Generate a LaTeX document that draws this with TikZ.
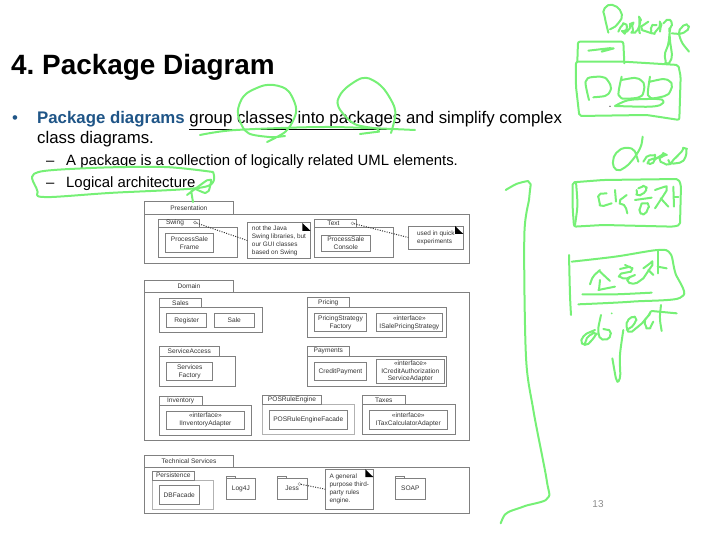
\documentclass[tikz,border=0pt]{standalone}
\usepackage{fontspec}
\setmainfont{Liberation Sans}
\frenchspacing
\definecolor{inkgreen}{RGB}{118,240,118}
\definecolor{headblue}{RGB}{31,85,135}

\newcommand{\inkline}[1]{\draw[ink] plot[smooth,tension=.5] coordinates {#1};}

\begin{document}
\begin{tikzpicture}[x=1pt,y=-1pt,
  corners/.style args={#1,#2,#3,#4}{at={({(#1+#3)/2},{(#2+#4)/2})},minimum width={(#3-#1)*1pt},minimum height={(#4-#2)*1pt}},
  pack/.style={draw=black!50,line width=.5pt,inner sep=0pt,outer sep=0pt,font=\fontsize{6.6}{7.8}\selectfont,align=center,text=black!80},
  classbox/.style={pack},
  notebox/.style={pack,font=\fontsize{6.4}{8}\selectfont,align=left},
  fold/.style={fill=black},
  lolly/.style={circle,draw=black!45,line width=.4pt,inner sep=0pt,minimum size=3pt},
  depends/.style={dash pattern=on 1pt off 1.4pt,line width=1pt,black!80},
  slide/.style={anchor=base west,inner sep=0pt,font=\fontsize{16.8}{20}\selectfont},
  subline/.style={slide,font=\fontsize{14.9}{18}\selectfont},
  ink/.style={inkgreen,line width=2pt,line cap=round,line join=round,rounded corners=2pt}]

  \useasboundingbox (0,0) rectangle (709,537);

  % slide text
  \node[slide,font=\fontsize{27.9}{32}\selectfont\bfseries] (title) at (11,75) {4. Package Diagram};
  \node[slide,text=headblue] (bulleta) at (12,124) {•};
  \node[slide] (linea) at (37,124) {{\color{headblue}\bfseries Package diagrams} \underline{group classes into packages} and simplify complex};
  \node[slide] (lineb) at (37,144) {class diagrams.};
  \node[subline] (dasha) at (46,166) {–};
  \node[subline] (linec) at (66,166) {A package is a collection of logically related UML elements.};
  \node[subline] (dashb) at (46,188) {–};
  \node[subline] (lined) at (66,188) {Logical architecture};
  \node[anchor=base,inner sep=0pt,text=black!45,font=\fontsize{10}{12}\selectfont] (pageno) at (598,507) {13};

  % presentation
  \node[pack,corners={144.7,214,469.5,263.5}] (pres) {};
  \node[pack,corners={144.7,201.7,233,214}] (prestab) {Presentation};
  \node[pack,corners={158.7,227.3,237.7,257.7}] (swing) {};
  \node[pack,corners={158.7,219,199.3,227.3}] (swingtab) {Swing\hspace{8pt}};
  \node[classbox,corners={165.7,233.3,213.3,252.3}] (frame) {ProcessSale\\Frame};
  \node[notebox,corners={247.3,222.7,310.7,258.3}] (swingnote) {not the Java\\Swing libraries, but\\our GUI classes\\based on Swing};
  \fill[fold] (302.3,223) -- (310.7,231) -- (302.3,231) -- cycle;
  \node[pack,corners={314.3,227.3,393.3,257.7}] (text) {};
  \node[pack,corners={314.3,219,356.7,227.3}] (texttab) {Text\hspace{4pt}};
  \node[classbox,corners={321.7,235,370,251.7}] (console) {ProcessSale\\Console};
  \node[notebox,corners={408.3,226,463.3,249}] (textnote) {used in quick\\experiments\hspace{10pt}};
  \fill[fold] (455,226) -- (463.3,234) -- (455,234) -- cycle;
  \node[lolly] (swingdot) at (195,222.5) {};
  \node[lolly] (textdot) at (352.5,223.3) {};
  \draw[depends] (swingdot) -- (swingnote.west);
  \draw[depends] (textdot) -- (textnote.west);

  % domain
  \node[pack,corners={144.7,292.3,469.7,440.7}] (dom) {};
  \node[pack,corners={144.7,280.7,233.3,292.3}] (domtab) {Domain};
  \node[pack,corners={159.3,307.3,262.7,332.7}] (sales) {};
  \node[pack,corners={159.3,298.3,201.7,307.3}] (salestab) {Sales};
  \node[classbox,corners={166.7,313.3,206.7,327.3}] (register) {Register};
  \node[classbox,corners={214.3,313.3,254.3,327.3}] (sale) {Sale};
  \node[pack,corners={307.3,307.3,446.7,337.3}] (pricing) {};
  \node[pack,corners={307.3,297.7,349.3,307.3}] (pricingtab) {Pricing};
  \node[classbox,corners={314.3,313.3,366.7,331.7}] (strategy) {PricingStrategy\\Factory};
  \node[classbox,corners={376,313.3,442.7,331.7}] (isale) {«interface»\\ISalePricingStrategy};
  \node[pack,corners={159.3,356,235.7,386}] (access) {};
  \node[pack,corners={159.3,346.7,219.3,356}] (accesstab) {ServiceAccess};
  \node[classbox,corners={166.7,362.3,212.7,380.7}] (services) {Services\\Factory};
  \node[pack,corners={307.3,356,446.7,386}] (pay) {};
  \node[pack,corners={307.3,346.7,349.3,356}] (paytab) {Payments};
  \node[classbox,corners={314.3,362.3,366.7,380.7}] (credit) {CreditPayment};
  \node[classbox,corners={376.7,359.3,444,383.3}] (icredit) {«interface»\\ICreditAuthorization\\ServiceAdapter};
  \node[pack,corners={159.3,405.3,251.7,435.7}] (inv) {};
  \node[pack,corners={159.3,396,202,405.3}] (invtab) {Inventory};
  \node[classbox,corners={166.7,411,244,429.3}] (iinv) {«interface»\\IInventoryAdapter};
  \node[pack,draw=black!30,corners={262.3,404.7,354.3,434.3}] (rule) {};
  \node[pack,corners={262.3,395.3,321.7,404.7}] (ruletab) {POSRuleEngine};
  \node[classbox,corners={269.3,410,347.3,429}] (facade) {POSRuleEngineFacade};
  \node[pack,corners={362.7,404.7,455,434.3}] (tax) {};
  \node[pack,corners={362.7,395.3,405,404.7}] (taxtab) {Taxes};
  \node[classbox,corners={369.3,410,447.3,429}] (itax) {«interface»\\ITaxCalculatorAdapter};

  % technical services
  \node[pack,corners={144.7,467.3,469.7,513.7}] (tech) {};
  \node[pack,corners={144.7,455.7,233.3,467.3}] (techtab) {Technical Services};
  \node[pack,draw=black!30,corners={152.3,480,213.3,509.7}] (persist) {};
  \node[pack,corners={152.3,471,194.3,480}] (persisttab) {Persistence};
  \node[classbox,corners={159.3,485.7,199.3,504.3}] (dbfacade) {DBFacade};
  \node[pack,corners={226,476.3,235,478.3}] (logtab) {};
  \node[pack,corners={226,478.3,255.7,499}] (log) {Log4J};
  \node[pack,corners={277,476.3,286,478.3}] (jesstab) {};
  \node[pack,corners={277,478.3,307.3,499}] (jess) {Jess};
  \node[pack,corners={395.3,476.3,404.3,478.3}] (soaptab) {};
  \node[pack,corners={395.3,478.3,425.3,499}] (soap) {SOAP};
  \node[notebox,corners={325.3,469.3,373.3,509}] (jessnote) {A general\\purpose third-\\party rules\\engine.};
  \fill[fold] (365.3,469.3) -- (373.3,477) -- (365.3,477) -- cycle;
  \node[lolly] (jessdot) at (299.3,484) {};
  \draw[depends] (jessdot) -- (jessnote.west);

  % pen strokes over the slide
  \inkline{(267,142)(287,130)(296,110)(287,90)(267,85)(245,95)(238,113)(247,132)(269,137)(285,136)}
  \inkline{(391,133)(395,110)(382,87)(364,78)(344,90)(338,105)(353,123)(378,130)(360,134)}
  \inkline{(200,135)(236,130)(327,127)(415,130)}
  \inkline{(213,172)(164,167)(91,168)(36,173)(37,190)(44,197)(109,193)(204,187)(213,172)}
  \inkline{(187,195)(209,180)(207,192)(193,190)(193,202)}

  \begin{scope}[shift={(590,0)},scale=.3333]
    % Package
    \inkline{(55,98)(45,55)(42,30)(60,15)(85,25)(95,50)(80,75)(60,88)}
    \inkline{(85,95)(95,78)(105,72)(110,85)(100,97)(115,90)(125,70)(128,85)(130,98)(145,85)(150,55)(148,90)(150,100)}
    \inkline{(175,65)(155,85)(185,100)}
    \inkline{(200,75)(185,80)(188,100)(205,85)(212,70)(210,95)}
    \inkline{(220,70)(235,60)(245,70)(240,90)(235,130)(225,165)(232,190)(245,170)(240,120)(238,85)}
    \inkline{(245,100)(275,100)(295,85)(285,75)(268,95)(275,125)(297,155)}
  \end{scope}

  \begin{scope}[shift={(490,0)},scale=.3333]
    \fill[black] (360,319) circle (2);
    \draw[ink] (262,185) -- (264,125) -- (400,125) -- (403,190);
    \draw[ink] (258,185) -- (400,185) -- (565,195) -- (572,230) -- (568,360) -- (470,345) -- (268,348) -- (258,260) -- cycle;
    \inkline{(295,152)(365,145)(335,155)}
    \inkline{(297,300)(290,240)(340,232)(362,260)(350,285)(310,292)}
    \inkline{(395,230)(390,290)(450,290)(462,255)(440,235)(395,240)}
    \inkline{(480,230)(478,290)(530,285)(545,255)(525,238)(480,245)}
    \inkline{(375,318)(420,300)(510,298)(515,312)(480,320)(375,318)}
  \end{scope}

  \begin{scope}[shift={(600,130)},scale=.3333]
    % class
    \inkline{(128,20)(122,50)(105,80)(80,108)(55,120)(40,105)(45,75)(70,55)(100,60)(115,95)}
    \inkline{(130,95)(145,78)(165,80)(145,95)(155,100)(170,85)(195,72)(180,90)(205,103)(225,85)(240,70)(255,55)(258,75)(245,95)(215,100)(205,90)}
  \end{scope}

  \begin{scope}[shift={(570,175)},scale=.3333]
    \draw[ink] (8,22) -- (100,15) -- (325,12) -- (333,30) -- (330,150) -- (310,155) -- (100,150) -- (12,155) -- (8,100) -- cycle;
    \inkline{(18,22)(22,90)(15,150)}
    \inkline{(110,55)(88,60)(88,80)(95,92)(125,85)}
    \inkline{(135,45)(138,80)}
    \inkline{(170,60)(150,80)(165,95)(172,115)}
    \inkline{(205,40)(225,35)(225,50)(205,60)(200,45)}
    \inkline{(195,75)(245,68)}
    \inkline{(215,85)(235,90)(225,115)(210,110)(215,85)}
    \inkline{(255,45)(290,40)(255,100)}
    \inkline{(272,70)(295,95)}
    \inkline{(310,35)(312,95)}
    \inkline{(312,65)(325,65)}
  \end{scope}

  \begin{scope}[shift={(565,245)},scale=.3333]
    \inkline{(12,30)(15,150)(18,210)}
    \inkline{(20,50)(150,35)(280,15)(315,25)(330,80)(350,155)(200,170)(40,178)}
    \inkline{(75,118)(85,95)(105,75)}
    \inkline{(105,80)(135,108)}
    \inkline{(105,105)(102,135)}
    \inkline{(100,135)(150,125)}
    \inkline{(52,148)(150,148)(260,143)}
    \inkline{(165,72)(195,65)}
    \inkline{(180,60)(200,75)(165,90)(180,100)(210,90)}
    \inkline{(195,95)(190,110)(210,115)(235,100)}
    \inkline{(235,70)(262,55)(235,100)}
    \inkline{(250,75)(265,90)}
    \inkline{(278,15)(278,85)}
    \inkline{(278,65)(305,70)}
  \end{scope}

  \begin{scope}[shift={(565,305)},scale=.3333]
    % object
    \inkline{(90,75)(60,90)(50,110)(65,118)(85,100)(90,85)(70,95)(60,115)}
    \inkline{(108,30)(100,75)(108,100)(130,100)(135,80)(115,72)}
    \fill[inkgreen] (140,25) circle (3);
    \inkline{(175,75)(165,150)(165,215)(155,225)(142,160)}
    \inkline{(185,75)(205,60)(212,40)(195,40)(185,60)(195,80)(225,60)(245,38)(255,25)(240,50)(250,70)(265,50)}
    \inkline{(260,18)(335,25)}
    \inkline{(288,0)(285,40)(290,78)}
  \end{scope}

  \begin{scope}[shift={(490,170)},scale=.3333]
    % bracket
    \inkline{(47,60)(85,40)(118,38)(118,80)(103,200)(108,560)(130,720)(170,930)(172,985)(100,1010)(50,1030)(32,1060)}
  \end{scope}
\end{tikzpicture}
\end{document}
